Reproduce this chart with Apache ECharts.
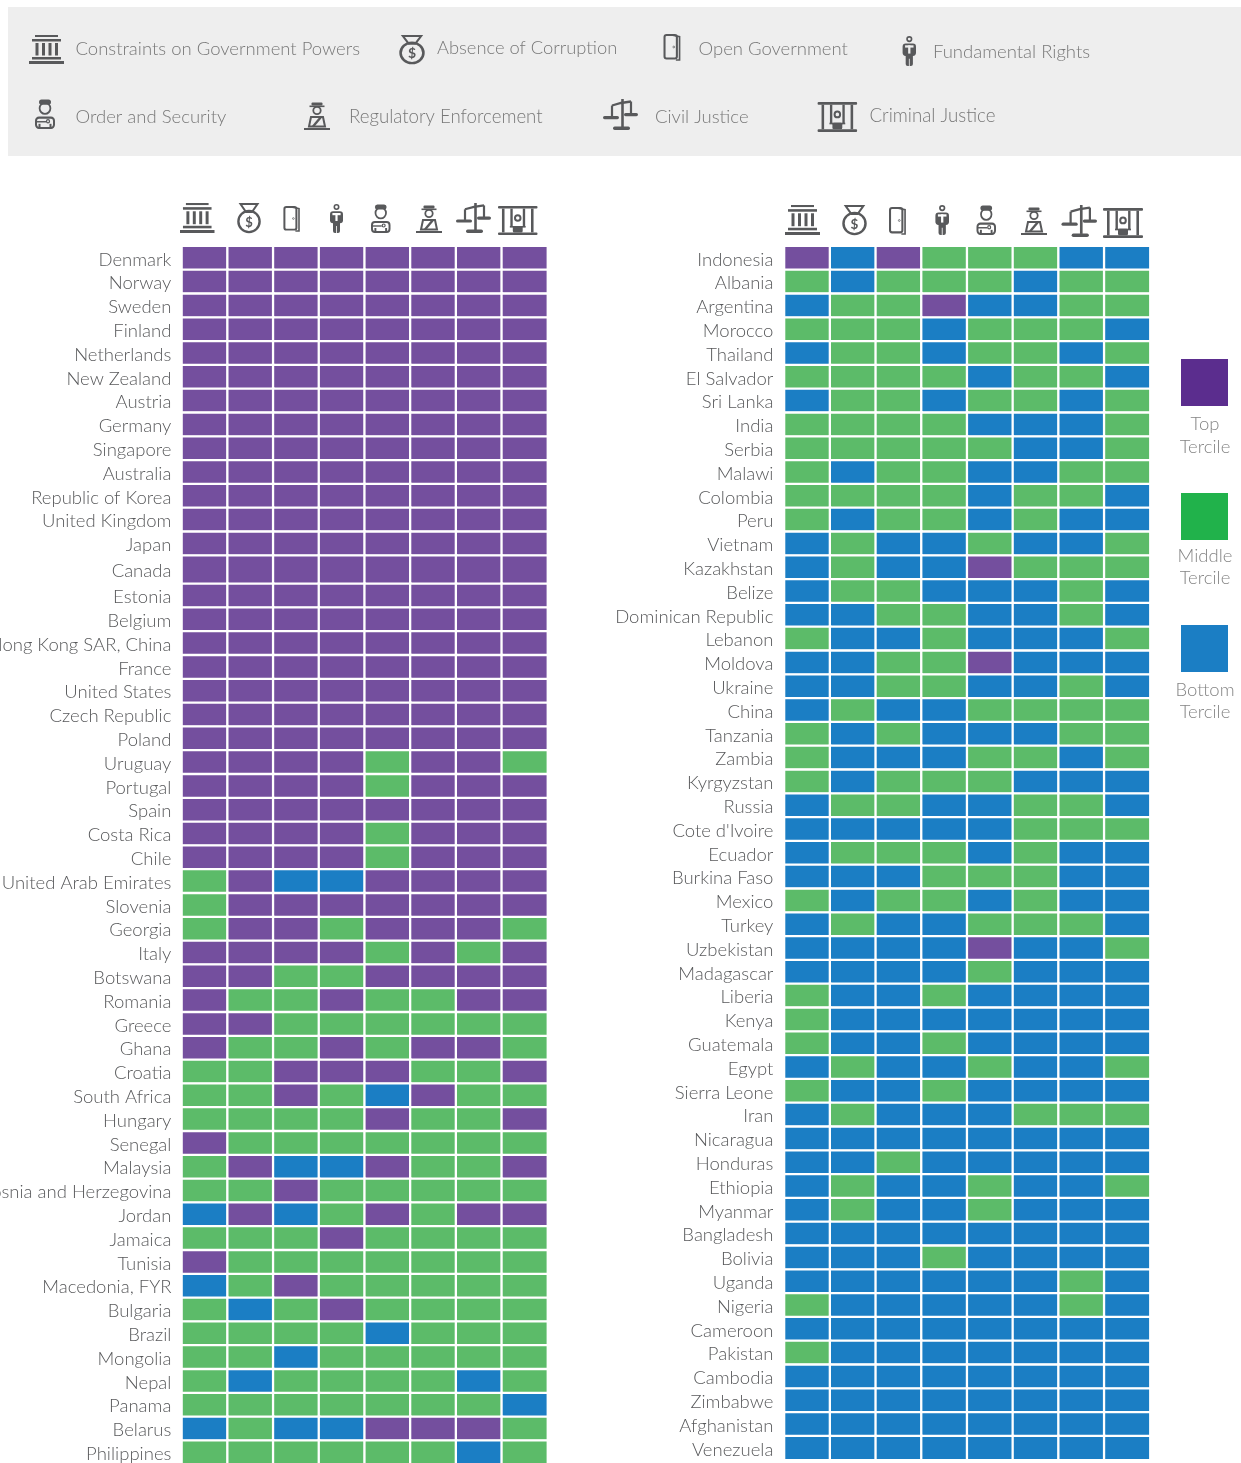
<!DOCTYPE html>
<html>
<head>
<meta charset="utf-8">
<style>html,body{margin:0;padding:0;background:#fff}#c{width:1241px;height:1463px}</style>
<script src="https://cdn.jsdelivr.net/npm/echarts@6/dist/echarts.min.js"></script>
</head>
<body>
<div id="c"></div>
<script>
var factors = ["Constraints on Government Powers","Absence of Corruption","Open Government","Fundamental Rights","Order and Security","Regulatory Enforcement","Civil Justice","Criminal Justice"];
var terciles = ["Top\nTercile","Middle\nTercile","Bottom\nTercile"];

var leftTopCountries = ["Denmark","Norway","Sweden","Finland","Netherlands","New Zealand","Austria","Germany","Singapore","Australia","Republic of Korea","United Kingdom","Japan"];
var leftTopRatings = ["TTTTTTTT","TTTTTTTT","TTTTTTTT","TTTTTTTT","TTTTTTTT","TTTTTTTT","TTTTTTTT","TTTTTTTT","TTTTTTTT","TTTTTTTT","TTTTTTTT","TTTTTTTT","TTTTTTTT"];
var leftMidCountries = ["Canada"];
var leftMidRatings = ["TTTTTTTT"];
var leftLowCountries = ["Estonia","Belgium","Hong Kong SAR, China","France","United States","Czech Republic","Poland","Uruguay","Portugal","Spain","Costa Rica","Chile","United Arab Emirates","Slovenia","Georgia","Italy","Botswana","Romania","Greece","Ghana","Croatia","South Africa","Hungary","Senegal","Malaysia","Bosnia and Herzegovina","Jordan","Jamaica","Tunisia","Macedonia, FYR","Bulgaria","Brazil","Mongolia","Nepal","Panama","Belarus","Philippines"];
var leftLowRatings = ["TTTTTTTT","TTTTTTTT","TTTTTTTT","TTTTTTTT","TTTTTTTT","TTTTTTTT","TTTTTTTT","TTTTMTTM","TTTTMTTT","TTTTTTTT","TTTTMTTT","TTTTMTTT","MTBBTTTT","MTTTTTTT","MTTMTTTM","TTTTMTMT","TTMMTTTT","TMMTMMTT","TTMMMMMM","TMMTMTTM","MMTTTMMT","MMTMBTMM","MMMMTMMT","TMMMMMMM","MTBBTMMT","MMTMMMMM","BTBMTMTT","MMMTMMMM","TMMMMMMM","BMTMMMMM","MBMTMMMM","MMMMBMMM","MMBMMMMM","MBMMMMBM","MMMMMMMB","BMBBTTTM","MMMMMMBM"];
var rightCountries = ["Indonesia","Albania","Argentina","Morocco","Thailand","El Salvador","Sri Lanka","India","Serbia","Malawi","Colombia","Peru","Vietnam","Kazakhstan","Belize","Dominican Republic","Lebanon","Moldova","Ukraine","China","Tanzania","Zambia","Kyrgyzstan","Russia","Cote d'Ivoire","Ecuador","Burkina Faso","Mexico","Turkey","Uzbekistan","Madagascar","Liberia","Kenya","Guatemala","Egypt","Sierra Leone","Iran","Nicaragua","Honduras","Ethiopia","Myanmar","Bangladesh","Bolivia","Uganda","Nigeria","Cameroon","Pakistan","Cambodia","Zimbabwe","Afghanistan","Venezuela"];
var rightRatings = ["TBTMMMBB","MBMMMBMM","BMMTBBMM","MMMBMMMB","BMMBMMBM","MMMMBMMB","BMMBMMBM","MMMMBBBM","MMMMMBBM","MBMMBBMM","MMMMBMMB","MBMMBMBB","BMBBMBBM","BMBBTMMM","BMMBBBMB","BBMMBBMB","MBBMBBBM","BBMMTBBB","BBMMBBMB","BMBBMMMM","MBMBBBMM","MBBBMMBM","MBMMMBBB","BMMBBMMB","BBBBBMMM","BMMMBMBB","BBBMMMBB","MBMMBMBB","BMBBMMMB","BBBBTBBM","BBBBMBBB","MBBMBBBB","MBBBBBBB","MBBMBBBB","BMBBMBBM","MBBMBBBB","BMBBBMMM","BBBBBBBB","BBMBBBBB","BMBBMBBM","BMBBMBBB","BBBBBBBB","BBBMBBBB","BBBBBBMB","MBBBBBMB","BBBBBBBB","MBBBBBBB","BBBBBBBB","BBBBBBBB","BBBBBBBB","BBBBBBBB"];

var PITCH = 23.8, INK = '#58595b', FONT = 'Lato, sans-serif';
var CELL = {T:'#744f9e', M:'#5cbb69', B:'#1b7ec4'};
var NUM = {T:3, M:2, B:1};

var blocks = [
  {names:leftTopCountries, rows:leftTopRatings, left:181.9, top:246.15, h:13*PITCH, m:10.5},
  {names:leftMidCountries, rows:leftMidRatings, left:181.9, top:555.55, h:28.3, m:10.5},
  {names:leftLowCountries, rows:leftLowRatings, left:181.9, top:583.85, h:37*PITCH, m:10.5},
  {names:rightCountries,   rows:rightRatings,   left:784.4, top:246.15, h:51*PITCH, m:11}
];
var grids=[], xAxes=[], yAxes=[], series=[];
blocks.forEach(function(b,i){
  grids.push({left:b.left, top:b.top, width:365.6, height:b.h, containLabel:false, outerBoundsMode:'none'});
  xAxes.push({type:'category', gridIndex:i, data:factors, show:false});
  yAxes.push({type:'category', gridIndex:i, data:b.names, inverse:true,
    axisLine:{show:false}, axisTick:{show:false}, splitLine:{show:false},
    axisLabel:{interval:0, margin:b.m, hideOverlap:false, formatter:'{a|{value}}',
      rich:{a:{color:'#58595b', fontFamily:FONT, fontWeight:300, fontSize:18.5, lineHeight:22, padding:[3,0,0,0]}}}});
  var data=[];
  b.rows.forEach(function(r,y){ r.split('').forEach(function(c,x){ data.push([x,y,NUM[c]]); }); });
  series.push({type:'heatmap', xAxisIndex:i, yAxisIndex:i, data:data, silent:true, progressive:0,
    itemStyle:{borderColor:'#fff', borderWidth:2.3}, emphasis:{disabled:true}});
});

function R(x,y,w,h,r){return {type:'rect',shape:{x:x,y:y,width:w,height:h,r:r||0},style:{fill:INK}};}
function SR(x,y,w,h,r,lw){return {type:'rect',shape:{x:x,y:y,width:w,height:h,r:r||0},style:{fill:'none',stroke:INK,lineWidth:lw}};}
function SC(cx,cy,r,lw){return {type:'circle',shape:{cx:cx,cy:cy,r:r},style:{fill:'none',stroke:INK,lineWidth:lw}};}
function PL(pts,lw){return {type:'polyline',shape:{points:pts},style:{fill:'none',stroke:INK,lineWidth:lw}};}
function PG(pts,lw){return {type:'polygon',shape:{points:pts},style:{fill:'none',stroke:INK,lineWidth:lw}};}
function BG(x,y,w,h,c){return {type:'rect',shape:{x:x,y:y,width:w,height:h},style:{fill:c}};}

var icons = {
  bank:{w:35,h:29,draw:function(){return [R(6,0,23,2),R(3,4,29,2.5),R(6.5,8,3,12.5),R(13,8,3,12.5),R(19.5,8,3,12.5),R(26,8,3,12.5),R(3,22,29,2.5),R(0,26,35,3)];}},
  money:{w:26,h:30,draw:function(){return [PG([[4.5,1],[21.5,1],[16,9],[10,9]],2),SC(13,18.5,10.6,2.4),
    {type:'text',style:{text:'$',x:13,y:19.5,font:'bold 13px Lato, sans-serif',fill:INK,align:'center',verticalAlign:'middle'}}];}},
  door:{w:17,h:27,draw:function(){return [SR(1,1,12,23.5,2,2),PL([[9,1.2],[15.6,2.6],[15.6,26],[12,26]],1.6),SC(10,13,0.9,0.7)];}},
  person:{w:13,h:29,draw:function(bg){return [SC(6.5,3,2.2,1.6),R(0,7.3,13,12,3),R(3,14,7,15,2),
    BG(2.4,9,8.2,2.2,bg),BG(5.4,9,2.2,8,bg),BG(6.1,22,0.8,7,bg)];}},
  police:{w:20,h:29,draw:function(bg){return [SC(10,9,5.4,1.8),R(4,0.5,12,5,3),BG(7,8.5,6,1.6,bg),
    SR(1,18,18,10,3,2),R(3.5,24,2,4.5),R(14.5,24,2,4.5),PL([[1,22],[11,22]],1.4),SC(13,21.5,1.5,1.2)];}},
  regulator:{w:26,h:28,draw:function(){return [R(7.5,0.5,11,3,1),R(5.5,3.5,15,1.6),SC(13,8.5,3.7,1.8),PG([[5,24.5],[7,15],[19,15],[21,24.5]],2),PL([[9,24.5],[17,15]],2.4),R(0,26,26,2)];}},
  scale:{w:35,h:31,draw:function(){return [R(18.2,0,2.6,28),R(10,27.5,17,3.5,1.7),PL([[9,6.5],[18,4],[28,2.5]],2.3),PL([[9,6.5],[9,17.5]],2.2),PL([[28,2.5],[28,15]],2.2),R(0,17,16,3.2,1.6),R(21,14,14,3.2,1.6)];}},
  prison:{w:40,h:29,draw:function(){return [R(0,0,40,2.6,1),R(0,26.4,40,2.6,1),R(4,2.6,2.6,23.8),R(33.4,2.6,2.6,23.8),R(12.5,2.6,2.4,18),R(25.1,2.6,2.4,18),SC(20,12,2.8,2),R(15,20,10,6.4,1.5),R(12,20,16,1.6)];}}
};
function icon(name,x,y,w,h,bg){
  var ic=icons[name];
  return {type:'group',x:x,y:y,scaleX:w/ic.w,scaleY:h/ic.h,silent:true,children:ic.draw(bg)};
}
function label(t,x,y,color,align,size){
  return {type:'text',silent:true,style:{text:t,x:x,y:y,font:'300 '+(size||18.5)+'px Lato, sans-serif',fill:color,align:align||'left',verticalAlign:'middle',textAlign:align||'left',textVerticalAlign:'middle'}};
}
var BAND='#eeeeee', TXT='#787878';
var gfx=[{type:'rect',silent:true,z:-1,shape:{x:8,y:7,width:1233,height:149},style:{fill:BAND}}];
gfx.push(icon('bank',29,35,35,29,BAND),icon('money',398,35,28,29,BAND),icon('door',663.5,34,17.5,27,BAND),icon('person',902.6,36,13.4,30,BAND),
  icon('police',35,99,20,30,BAND),icon('regulator',304,102,26,28,BAND),icon('scale',603,99,35,31,BAND),icon('prison',817.6,102,39.5,30,BAND));
gfx.push(label(factors[0],75.5,49,TXT),label(factors[1],437,48.5,TXT,'left',18.35),label(factors[2],698.5,49,TXT),label(factors[3],933,52.5,TXT),
  label(factors[4],75.5,117,TXT),label(factors[5],349,117,TXT,'left',18.65),label(factors[6],655,117,TXT),label(factors[7],869.5,116,TXT,'left',18.7));
[['bank',180,203,34.5,30],['money',236,203,26,30],['door',283.4,206,17,26],['person',330,204,13,29],['police',371,204,19.5,29],['regulator',416,205,26,28],['scale',456,203,35,30],['prison',498,206,39.5,29],
 ['bank',785,205,35,30],['money',841,205,27,30],['door',889,207,17.5,28],['person',935.4,205,13.6,30],['police',976.5,205,19.5,30],['regulator',1021,207,26,28],['scale',1061.5,205,35.5,32],['prison',1103,208,40,30]
].forEach(function(a){gfx.push(icon(a[0],a[1],a[2],a[3],a[4],'#fff'));});
[['#5b2d8e',359,424.5],['#21b24b',493,556],['#1b7ec4',625,690]].forEach(function(s,i){
  gfx.push({type:'rect',silent:true,shape:{x:1181,y:s[1],width:47,height:47},style:{fill:s[0]}});
  var p=terciles[i].split('\n');
  gfx.push(label(p[0],1205,s[2],'#858585','center'),label(p[1],1205,s[2]+22.5,'#858585','center'));
});

var chart=echarts.init(document.getElementById('c'),null,{renderer:'canvas',width:1241,height:1463});
chart.setOption({
  animation:false, backgroundColor:'#fff',
  grid:grids, xAxis:xAxes, yAxis:yAxes, series:series,
  visualMap:{type:'piecewise',show:false,dimension:2,pieces:[{value:3,color:CELL.T},{value:2,color:CELL.M},{value:1,color:CELL.B}]},
  graphic:{elements:gfx}
});
</script>
</body>
</html>
